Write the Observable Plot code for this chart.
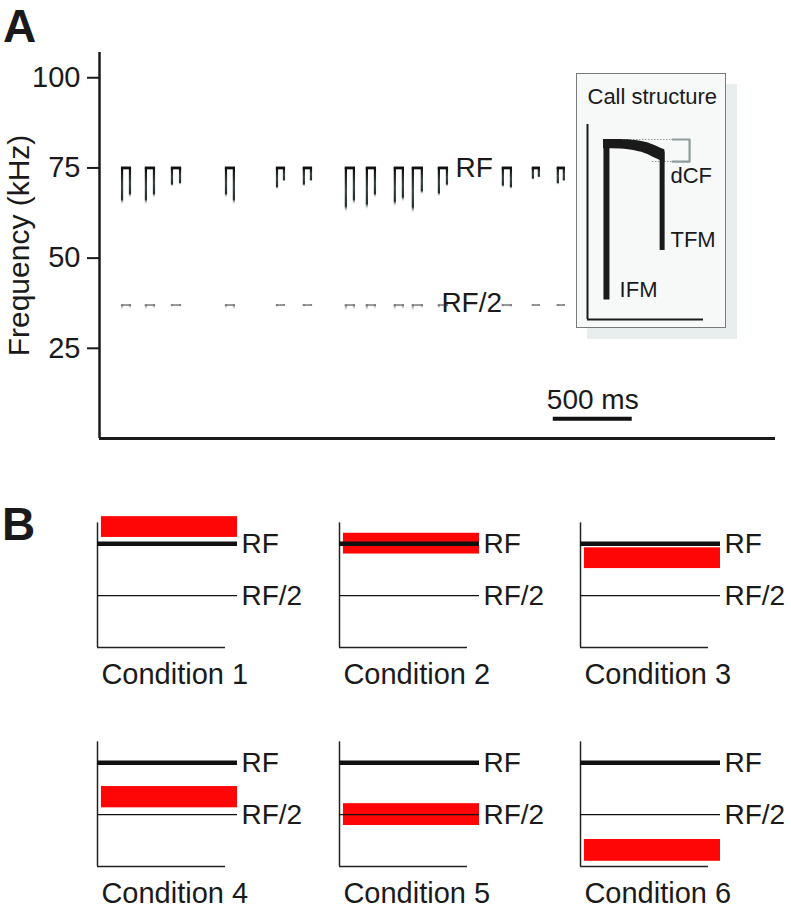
<!DOCTYPE html>
<html><head><meta charset="utf-8">
<script src="https://cdn.jsdelivr.net/npm/d3@7"></script>
<script src="https://cdn.jsdelivr.net/npm/@observablehq/plot@0.6"></script>
<style>
body{margin:0;background:#fff;}
#root{position:relative;width:791px;height:911px;overflow:hidden;font-family:"Liberation Sans",Arial,Helvetica,sans-serif;color:#1a1a1a;}
.abs{position:absolute;}
.abs svg{max-width:none !important;}
.letter{position:absolute;font-weight:bold;font-size:46px;line-height:46px;}
</style></head>
<body><div id="root"></div>
<script>
// ---------- Panel A data ----------
const callStart = [146, 297, 462, 804, 1127, 1297, 1563, 1696, 1873, 1987, 2152, 2557, 2747, 2905]; // ms (IFM leg)
const callEnd   = [196, 348, 513, 854, 1171, 1342, 1614, 1747, 1924, 2044, 2203, 2608, 2785, 2943]; // ms (TFM leg)
const ifmLow = [64.6, 64.6, 69.6, 66.5, 68.8, 69.6, 62.4, 63.2, 64.0, 62.1, 66.8, 69.3, 71.5, 70.1]; // kHz
const tfmLow = [66.5, 66.5, 70.1, 64.6, 71.0, 71.0, 64.6, 66.5, 65.4, 67.4, 69.6, 68.8, 72.1, 71.0]; // kHz
const rfFreq = 75;      // kHz
const rf2Freq = 37;     // kHz
const yTicks = [25, 50, 75, 100];
const timeMax = 4280;   // ms
const freqMax = 107;    // kHz
const scaleBarStart = 2873;  // ms
const scaleBarLength = 500;  // ms
const scaleBarFreq = 5.5;    // kHz

// ---------- Inset (call structure) data ----------
const insetTimeMax = 60, insetFreqMax = 100;
const ifmLeg = {t: 9.8, low: 10, high: 92.3};
const tfmLeg = {t: 38.6, low: 35.4, high: 86};
const arcT      = [8.3, 17, 25, 30.5, 34.5, 40.0];
const arcTop    = [92.3, 92.3, 91.8, 90.8, 89.4, 87.0];
const arcBottom = [87.6, 87.4, 86.4, 84.9, 83.0, 80.6];
const dcfTop = 92.3, dcfBottom = 81.0;
const dcfDotStart = [9.8, 33.6];
const dcfBracketT = [44, 52.8];
const insetLabels = ["dCF", "TFM", "IFM"];
const insetLabelT = [42.9, 42.9, 16.6];
const insetLabelF = [73.6, 40.8, 15.1];

// ---------- Panel B data ----------
const conditions = ["Condition 1", "Condition 2", "Condition 3", "Condition 4", "Condition 5", "Condition 6"];
const bandLow  = [1.06, 0.90, 0.76, 0.565, 0.395, 0.05];
const bandHigh = [1.26, 1.10, 0.96, 0.770, 0.605, 0.26];
const bandStart = 0.028;
const rfLevel = 1, rf2Level = 0.5;

// ---------- helpers ----------
const FONT = '"Liberation Sans", Arial, Helvetica, sans-serif';
const root = document.getElementById("root");
function place(el, left, top) {
  const d = document.createElement("div");
  d.className = "abs"; d.style.left = left + "px"; d.style.top = top + "px";
  d.appendChild(el); root.appendChild(d); return d;
}
function letter(txt, left, top) {
  const d = document.createElement("div"); d.className = "letter";
  d.style.left = left + "px"; d.style.top = top + "px"; d.textContent = txt; root.appendChild(d);
}
function gradientDefs() {
  return () => {
    const ns = "http://www.w3.org/2000/svg";
    const defs = document.createElementNS(ns, "defs");
    const mk = (id, stops) => {
      const g = document.createElementNS(ns, "linearGradient");
      g.setAttribute("id", id);
      g.setAttribute("x1", "0"); g.setAttribute("y1", "0"); g.setAttribute("x2", "0"); g.setAttribute("y2", "1");
      for (const [o, c, a] of stops) {
        const s = document.createElementNS(ns, "stop");
        s.setAttribute("offset", o); s.setAttribute("stop-color", c); s.setAttribute("stop-opacity", a);
        g.appendChild(s);
      }
      defs.appendChild(g);
    };
    mk("legGrad", [[0, "#080808", 1], [0.5, "#3c4747", 1], [0.85, "#142020", 0.95], [1, "#ffffff", 0]]);
    mk("harmGrad", [[0, "#666", 1], [0.15, "#999", 0.6], [0.35, "#ffffff", 0]]);
    return defs;
  };
}
const baseStyle = {fontFamily: FONT, background: "transparent", overflow: "visible", color: "#1a1a1a", maxWidth: "none"};

// ---------- Panel A ----------
const calls = callStart.map((t, i) => ({t0: t, t1: callEnd[i], ifm: ifmLow[i], tfm: tfmLow[i]}));
const legs = calls.flatMap(c => [{t: c.t0, low: c.ifm}, {t: c.t1, low: c.tfm}]);
const LEG = 14; // leg thickness in ms

const plotA = Plot.plot({
  width: 791, height: 408,
  marginLeft: 99, marginRight: 16, marginTop: 12, marginBottom: 10,
  x: {domain: [0, timeMax], axis: null},
  y: {domain: [0, freqMax], axis: null},
  style: {...baseStyle, fontSize: "29px"},
  marks: [
    gradientDefs(),
    // 2nd harmonic (RF/2)
    Plot.rect(legs, {x1: d => d.t - LEG / 2, x2: d => d.t + LEG / 2, y1: d => d.low / 2, y2: rf2Freq, fill: "url(#harmGrad)"}),
    Plot.ruleY(calls, {x1: d => d.t0 - LEG / 2, x2: d => d.t1 + LEG / 2, y: rf2Freq, stroke: "#707070", strokeWidth: 1.4}),
    // fundamental calls
    Plot.rect(legs, {x1: d => d.t - LEG / 2, x2: d => d.t + LEG / 2, y1: "low", y2: rfFreq, fill: "url(#legGrad)"}),
    Plot.ruleY(calls, {x1: d => d.t0 - LEG / 2, x2: d => d.t1 + LEG / 2, y: rfFreq, stroke: "#111", strokeWidth: 2.8}),
    // axes
    Plot.ruleX([0], {y1: 0, y2: freqMax, stroke: "#1a1a1a", strokeWidth: 2.5}),
    Plot.ruleY([0], {x1: 0, x2: timeMax, stroke: "#1a1a1a", strokeWidth: 3}),
    Plot.axisY(yTicks, {tickSize: 12, tickPadding: 7, fontSize: 29, strokeWidth: 2, label: null}),
    Plot.text(["Frequency (kHz)"], {text: d => d, frameAnchor: "left", dx: -80, rotate: -90, textAnchor: "middle", lineAnchor: "middle", fontSize: 30}),
    // labels
    Plot.text(["RF"], {text: d => d, x: callEnd[10], y: rfFreq, dx: 8, textAnchor: "start", lineAnchor: "middle", fontSize: 28}),
    Plot.text(["RF/2"], {text: d => d, x: callStart[10], y: rf2Freq, dx: 2, dy: -2, textAnchor: "start", lineAnchor: "middle", fontSize: 28}),
    // scale bar
    Plot.ruleY([scaleBarFreq], {x1: scaleBarStart, x2: scaleBarStart + scaleBarLength, stroke: "#111", strokeWidth: 4}),
    Plot.text([`${scaleBarLength} ms`], {text: d => d, x: scaleBarStart + scaleBarLength / 2, y: scaleBarFreq, dy: -10, lineAnchor: "bottom", textAnchor: "middle", fontSize: 28})
  ]
});
place(plotA, 0, 40);

// ---------- Inset ----------
const shadow = document.createElement("div");
shadow.className = "abs";
Object.assign(shadow.style, {left: "587px", top: "84px", width: "150px", height: "255px", background: "#e8eeee"});
root.appendChild(shadow);

const arc = arcT.map((t, i) => ({t, top: arcTop[i], bottom: arcBottom[i]}));
const insetPlot = Plot.plot({
  width: 148, height: 253,
  marginLeft: 10, marginRight: 22, marginTop: 50, marginBottom: 8,
  x: {domain: [0, insetTimeMax], axis: null},
  y: {domain: [0, insetFreqMax], axis: null},
  style: {...baseStyle, fontSize: "22px"},
  marks: [
    Plot.ruleX([0], {y1: 0, y2: insetFreqMax, stroke: "#1a1a1a", strokeWidth: 2}),
    Plot.ruleY([0], {x1: 0, x2: insetTimeMax, stroke: "#1a1a1a", strokeWidth: 2}),
    Plot.ruleY([dcfTop], {x1: dcfDotStart[0], x2: dcfBracketT[0], stroke: "#8a9494", strokeWidth: 1, strokeDasharray: "1.5,1.5"}),
    Plot.ruleY([dcfBottom], {x1: dcfDotStart[1], x2: dcfBracketT[0], stroke: "#8a9494", strokeWidth: 1, strokeDasharray: "1.5,1.5"}),
    Plot.line([[dcfBracketT[0], dcfTop], [dcfBracketT[1], dcfTop], [dcfBracketT[1], dcfBottom], [dcfBracketT[0], dcfBottom]],
      {stroke: "#8f9c9c", strokeWidth: 2.2, curve: "linear"}),
    Plot.areaY(arc, {x: "t", y1: "bottom", y2: "top", fill: "#1a1a1a", curve: "natural"}),
    Plot.ruleX([ifmLeg], {x: "t", y1: "low", y2: "high", stroke: "#1a1a1a", strokeWidth: 6}),
    Plot.ruleX([tfmLeg], {x: "t", y1: "low", y2: "high", stroke: "#1a1a1a", strokeWidth: 5}),
    Plot.text(insetLabels, {text: d => d, x: (d, i) => insetLabelT[i], y: (d, i) => insetLabelF[i], textAnchor: "start", lineAnchor: "middle", fontSize: 22}),
    Plot.text(["Call structure"], {text: d => d, frameAnchor: "top-left", dy: -21, lineAnchor: "bottom", textAnchor: "start", fontSize: 22})
  ]
});
const insetBox = place(insetPlot, 576, 73);
Object.assign(insetBox.style, {border: "1px solid #7a7a7a", background: "#f7f9f9", width: "148px", height: "253px", lineHeight: "0"});

// ---------- Panel B ----------
function conditionPlot(i) {
  return Plot.plot({
    width: 241, height: 192,
    marginLeft: 10, marginRight: 91, marginTop: 12, marginBottom: 45,
    x: {domain: [0, 1], axis: null},
    y: {domain: [0, 1.3], axis: null},
    style: {...baseStyle, fontSize: "28px"},
    marks: [
      Plot.rect([i], {x1: bandStart, x2: 1, y1: d => bandLow[d], y2: d => bandHigh[d], fill: "#fe0606"}),
      Plot.ruleX([0], {y1: 0, y2: 1.2, stroke: "#222", strokeWidth: 1.5}),
      Plot.ruleY([0], {x1: 0, x2: 0.914, stroke: "#222", strokeWidth: 1.5}),
      Plot.ruleY([rfLevel], {x1: 0, x2: 1, stroke: "#111", strokeWidth: 4.5}),
      Plot.ruleY([rf2Level], {x1: 0, x2: 1, stroke: "#111", strokeWidth: 1.3}),
      Plot.text(["RF"], {text: d => d, x: 1, y: rfLevel, dx: 4, textAnchor: "start", lineAnchor: "middle", fontSize: 28}),
      Plot.text(["RF/2"], {text: d => d, x: 1, y: rf2Level, dx: 4, textAnchor: "start", lineAnchor: "middle", fontSize: 28}),
      Plot.text([conditions[i]], {text: d => d, x: bandStart, y: 0, dy: 36, textAnchor: "start", lineAnchor: "bottom", fontSize: 29})
    ]
  });
}
conditions.forEach((c, i) => {
  const col = i % 3, row = Math.floor(i / 3);
  const box = place(conditionPlot(i), 97 + 241.5 * col - 10, 500 + 219 * row);
  box.style.width = "241px";
});

letter("A", 3, 3);
letter("B", 2, 501);
</script>
</body></html>
